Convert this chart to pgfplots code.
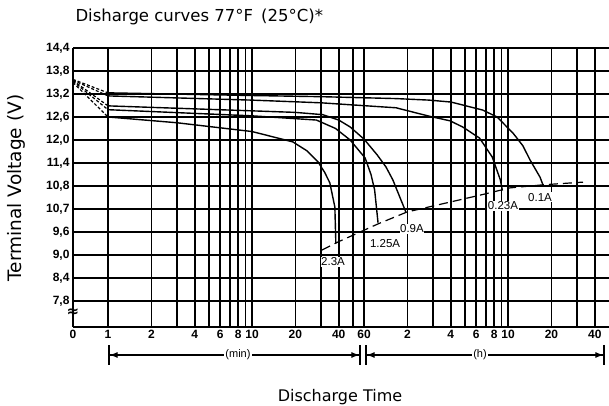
\documentclass[border=0pt]{standalone}
\usepackage{fontspec}
\setmainfont{Liberation Sans}
\newfontfamily\labelfont{DejaVu Sans}
\usepackage{pgfplots}
\pgfplotsset{compat=1.18}
\usetikzlibrary{arrows.meta}

\begin{document}
\begin{tikzpicture}[x=1pt,y=1pt]
\path[use as bounding box] (0,0) rectangle (609,406);
\begin{axis}[
  at={(73pt,79pt)}, anchor=south west,
  scale only axis, width=536pt, height=279pt,
  xmode=log, xmin=0.571, xmax=3013, ymin=7.12, ymax=14.4,
  axis x line=box, axis y line=left,
  axis line style={-, line width=2.2pt},
  xtick={0.571,1,2,3,4,5,6,7,8,9,10,20,30,40,50,60,120,180,240,300,360,420,480,540,600,1200,1800,2400},
  xticklabels={0,1,2,{},4,{},6,{},8,{},10,20,{},40,{},60,2,{},4,{},6,{},8,{},10,20,{},40},
  ytick={7.8,8.4,9.0,9.6,10.2,10.8,11.4,12.0,12.6,13.2,13.8,14.4},
  yticklabels={{7{,}8},{8{,}4},{9{,}0},{9{,}6},{10{,}7},{10{,}8},{11{,}4},{12{,}0},{12{,}6},{13{,}2},{13{,}8},{14{,}4}},
  grid=major, major grid style={black, line width=1.7pt},
  major tick length=0pt,
  tick label style={font=\fontsize{12}{13}\selectfont\bfseries},
  clip=false,
]
% initial portion (0 - 1 min), dashed
\addplot[black, line width=1.2pt, densely dashed] coordinates {(0.571,13.58)(1,13.23)};
\addplot[black, line width=1.2pt, densely dashed] coordinates {(0.571,13.56)(1,13.15)};
\addplot[black, line width=1.2pt, densely dashed] coordinates {(0.571,13.55)(1,12.89)};
\addplot[black, line width=1.2pt, densely dashed] coordinates {(0.571,13.53)(1,12.79)};
\addplot[black, line width=1.2pt, densely dashed] coordinates {(0.571,13.50)(1,12.60)};
% 0.1A
\addplot[black, line width=1.4pt] coordinates {(1,13.23)(10,13.16)(30,13.13)(100,13.08)(170,13.04)(240,12.99)(292,12.91)(400,12.78)(503,12.6)(649,12.18)(760,11.85)(852,11.48)(1000,11.03)(1050,10.82)};
% 0.23A
\addplot[black, line width=1.4pt] coordinates {(1,13.15)(10,13.04)(30,12.97)(100,12.84)(170,12.62)(237,12.5)(290,12.34)(380,12.05)(465,11.56)(530,10.96)(548,10.68)};
% 0.9A
\addplot[black, line width=1.4pt] coordinates {(1,12.89)(10,12.76)(20,12.72)(31,12.66)(40,12.52)(48,12.34)(60,12.02)(74,11.61)(85,11.3)(95,10.96)(117,10.12)};
% 1.25A
\addplot[black, line width=1.4pt] coordinates {(1,12.79)(10,12.63)(28,12.52)(38,12.3)(48,12.0)(61,11.53)(67,11.1)(71,10.7)(75,9.84)};
% 2.3A
\addplot[black, line width=1.4pt] coordinates {(1,12.6)(3,12.45)(10,12.22)(19.2,11.95)(24,11.72)(28.7,11.43)(32,11.15)(34.7,10.88)(37.6,10.25)(38.2,9.3)};
% end-of-discharge line
\addplot[black, line width=1.2pt, dash pattern=on 9pt off 5pt] coordinates {(30.6,9.13)(39.6,9.34)(75,9.81)(119,10.12)(383,10.56)(619,10.75)(1050,10.83)(1989,10.90)};
\node[fill=white, inner sep=0.6pt, font=\fontsize{11.5}{12}\selectfont] at (axis cs:1000,10.51) {0.1A};
\node[fill=white, inner sep=0.6pt, font=\fontsize{11.5}{12}\selectfont] at (axis cs:553,10.28) {0.23A};
\node[fill=white, inner sep=0.6pt, font=\fontsize{11.5}{12}\selectfont] at (axis cs:129,9.68) {0.9A};
\node[fill=white, inner sep=0.6pt, font=\fontsize{11.5}{12}\selectfont] at (axis cs:84,9.31) {1.25A};
\node[fill=white, inner sep=0.6pt, font=\fontsize{11.5}{12}\selectfont] at (axis cs:36.5,8.82) {2.3A};
\end{axis}
\node[anchor=base west, font=\labelfont\fontsize{16.5}{18}\selectfont] at (72,384) {Disharge curves 77°F\, (25°C)*};
\node[rotate=90, font=\labelfont\fontsize{18.5}{20}\selectfont] at (16,218) {Terminal Voltage (V)};
\node[anchor=base, font=\labelfont\fontsize{16}{18}\selectfont] at (340,5) {Discharge Time};
\node[font=\labelfont\bfseries\fontsize{15}{15}\selectfont] at (73,93) {≈};
\draw[line width=1.1pt, {Bar[width=20pt,line width=1.6pt]Latex[length=8pt,width=6pt]}-{Latex[length=8pt,width=6pt]Bar[width=20pt,line width=1.6pt]}] (108,51) -- (361,51);
\draw[line width=1.1pt, {Bar[width=20pt,line width=1.6pt]Latex[length=8pt,width=6pt]}-{Latex[length=8pt,width=6pt]Bar[width=20pt,line width=1.6pt]}] (365,51) -- (605,51);
\node[fill=white, inner sep=1pt, font=\fontsize{11}{12}\selectfont] at (238,51) {(min)};
\node[fill=white, inner sep=1pt, font=\fontsize{11}{12}\selectfont] at (480,51) {(h)};
\end{tikzpicture}
\end{document}
